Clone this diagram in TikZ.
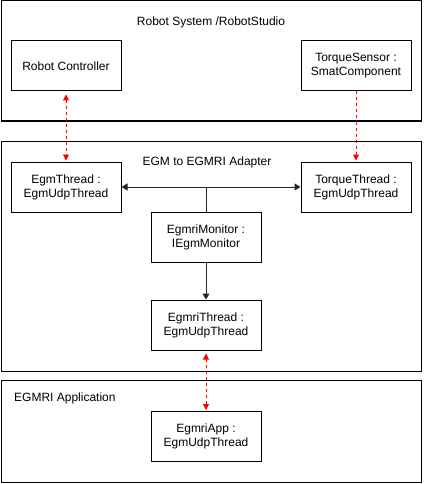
\documentclass[tikz,border=0pt]{standalone}
\usepackage{fontspec}
\setmainfont{Liberation Sans}
\usetikzlibrary{arrows.meta}
\begin{document}
\begin{tikzpicture}[x=1pt,y=-1pt,
  txt/.style={font=\fontsize{12}{14}\selectfont},
  box/.style={draw, line width=1pt, minimum width=110pt, minimum height=50pt, align=center, inner sep=0pt, txt},
  group/.style={draw, line width=1pt, inner sep=0pt},
  rtip/.tip={Triangle[width=6pt,length=6pt]},
  btip/.tip={Triangle[width=7pt,length=6pt]},
  link/.style={draw=red, line width=1pt, dash pattern=on 3pt off 3pt},
  flow/.style={draw=black!85, line width=1pt}]
\useasboundingbox (0,0) rectangle (424,484);
% groups
\node[group, minimum width=420pt, minimum height=120pt] (g1) at (211,61) {};
\node[group, minimum width=420pt, minimum height=230pt] (g2) at (211,256) {};
\node[group, minimum width=420pt, minimum height=102pt] (g3) at (211,431) {};
\node[txt] (t1) at (211,22) {Robot System /RobotStudio};
\node[txt] (t2) at (207,162) {EGM to EGMRI Adapter};
\node[txt, anchor=west, inner sep=0pt] (t3) at (14,398) {EGMRI Application};
% boxes
\node[box] (rc) at (66,66) {Robot Controller};
\node[box] (ts) at (356,66) {TorqueSensor :\\SmatComponent};
\node[box] (et) at (66,187) {EgmThread :\\EgmUdpThread};
\node[box] (tt) at (356,187) {TorqueThread :\\EgmUdpThread};
\node[box] (mon) at (206,237) {EgmriMonitor :\\IEgmMonitor};
\node[box] (emt) at (206,325) {EgmriThread :\\EgmUdpThread};
\node[box] (app) at (206,436.5) {EgmriApp :\\EgmUdpThread};
% connectors
\coordinate (j) at (mon.north |- et.east);
\draw[flow, {btip}-{btip}] (et.east) -- (tt.west);
\draw[flow] (mon.north) -- (j);
\draw[flow, -{btip}] (mon.south) -- (emt.north);
\draw[link, {rtip}-{rtip}, shorten <=3pt, shorten >=1pt] (rc.south) -- (et.north);
\draw[link, -{rtip}, shorten >=1pt] (ts.south) -- (tt.north);
\draw[link, {rtip}-{rtip}, shorten <=3pt, shorten >=1pt] (emt.south) -- (app.north);
\end{tikzpicture}
\end{document}
